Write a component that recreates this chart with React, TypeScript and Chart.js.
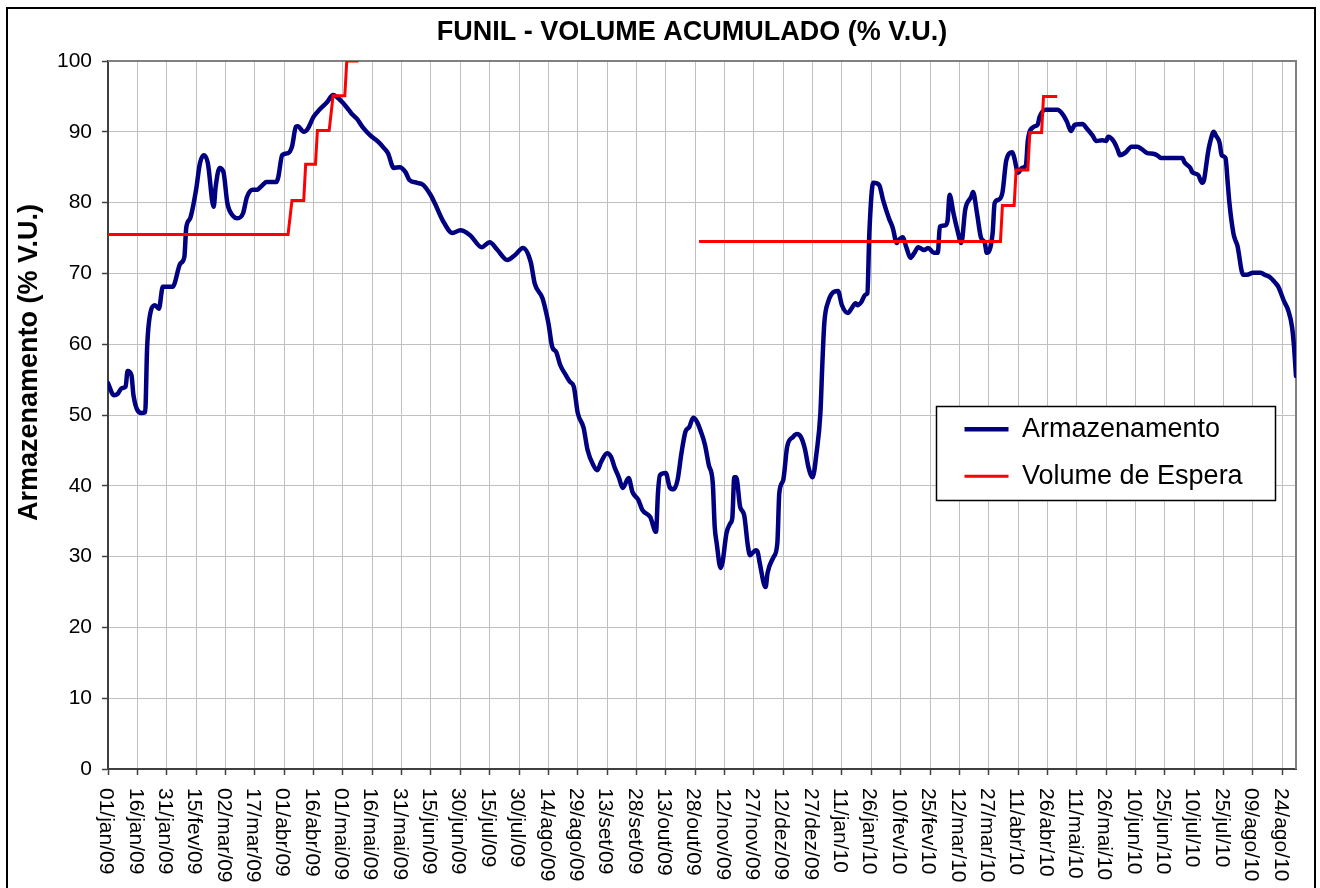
import { useEffect, useRef } from 'react';
import { Chart, registerables } from 'chart.js';

Chart.register(...registerables);

const FONT = "'Liberation Sans', Arial, sans-serif";

const chartTitle = 'FUNIL - VOLUME ACUMULADO (% V.U.)';
const yAxisTitle = 'Armazenamento (% V.U.)';
const seriesNames = ['Armazenamento', 'Volume de Espera'];

// x tick labels, one every 15 days starting 01/jan/09 (day 0)
const xTickLabels = [
  '01/jan/09', '16/jan/09', '31/jan/09', '15/fev/09', '02/mar/09', '17/mar/09', '01/abr/09',
  '16/abr/09', '01/mai/09', '16/mai/09', '31/mai/09', '15/jun/09', '30/jun/09', '15/jul/09',
  '30/jul/09', '14/ago/09', '29/ago/09', '13/set/09', '28/set/09', '13/out/09', '28/out/09',
  '12/nov/09', '27/nov/09', '12/dez/09', '27/dez/09', '11/jan/10', '26/jan/10', '10/fev/10',
  '25/fev/10', '12/mar/10', '27/mar/10', '11/abr/10', '26/abr/10', '11/mai/10', '26/mai/10',
  '10/jun/10', '25/jun/10', '10/jul/10', '25/jul/10', '09/ago/10', '24/ago/10',
];
const xTickStep = 15;
const xMaxDay = 607;

// Armazenamento: days since 01/jan/09 and % V.U.
const armDays = [
  0, 3, 5, 7, 9, 10, 12, 13, 17, 19, 20, 22, 24, 26, 28, 33, 37, 39, 40, 42, 45, 47, 49, 51,
  54, 55, 57, 59, 61, 64, 66, 69, 71, 74, 76, 79, 81, 84, 86, 87, 89, 92, 94, 96, 97, 100,
  102, 105, 108, 112, 115, 117, 120, 123, 125, 127, 130, 134, 138, 141, 143, 146, 149, 152,
  154, 158, 161, 165, 167, 171, 176, 180, 185, 191, 195, 199, 204, 208, 212, 216, 218, 222,
  223, 225, 227, 229, 231, 234, 236, 238, 240, 243, 245, 248, 250, 252, 255, 257, 259, 261,
  263, 266, 268, 271, 273, 277, 280, 281, 282, 285, 287, 289, 291, 293, 295, 297, 299, 301,
  303, 305, 307, 309, 310, 311, 313, 314, 316, 318, 319, 320, 321, 323, 325, 327, 328, 331,
  332, 333, 336, 337, 340, 342, 343, 345, 347, 350, 352, 354, 356, 358, 360, 362, 364, 365,
  366, 368, 371, 373, 375, 378, 380, 382, 383, 385, 387, 388, 389, 391, 394, 396, 399, 401,
  403, 404, 406, 408, 410, 412, 414, 417, 419, 422, 424, 425, 428, 429, 430, 432, 434, 436,
  438, 441, 442, 444, 446, 448, 449, 452, 453, 455, 457, 459, 462, 463, 465, 467, 469, 470,
  473, 475, 476, 479, 485, 488, 490, 492, 494, 498, 500, 503, 505, 508, 510, 511, 514, 516,
  517, 520, 523, 526, 528, 531, 534, 536, 538, 549, 550, 553, 554, 557, 559, 560, 562, 563,
  565, 566, 568, 569, 571, 572, 573, 575, 576, 577, 580, 582, 585, 589, 591, 594, 596, 598,
  600, 601, 603, 605, 606, 607,
];
const armValues = [
  54.5, 52.8, 53.0, 53.8, 54.0, 56.2, 55.6, 52.8, 50.3, 50.4, 59.6, 64.8, 65.5, 65.0, 68.1,
  68.1, 71.4, 72.3, 76.5, 77.8, 81.8, 85.6, 86.7, 85.6, 79.4, 82.2, 84.9, 84.3, 79.9, 78.1,
  77.8, 78.5, 80.8, 81.8, 81.8, 82.5, 82.9, 82.9, 82.9, 83.6, 86.7, 87.0, 87.9, 90.7, 90.8,
  90.0, 90.4, 92.1, 93.1, 94.2, 95.2, 94.9, 94.1, 93.1, 92.4, 91.9, 90.7, 89.5, 88.6, 87.7,
  87.0, 84.9, 85.0, 84.3, 83.2, 82.8, 82.5, 81.0, 79.9, 77.5, 75.7, 76.1, 75.4, 73.7, 74.4,
  73.3, 71.9, 72.6, 73.6, 71.6, 68.6, 66.5, 65.5, 63.0, 59.6, 58.9, 57.1, 55.6, 54.7, 54.0,
  50.3, 48.2, 45.1, 42.9, 42.2, 43.4, 44.6, 44.1, 42.5, 41.2, 39.7, 41.1, 39.1, 38.0, 36.6,
  35.6, 33.5, 39.0, 41.5, 41.8, 39.8, 39.5, 40.8, 44.6, 47.6, 48.3, 49.6, 49.0, 47.6, 45.8,
  42.9, 40.4, 34.2, 31.9, 28.4, 29.2, 33.3, 34.7, 35.5, 41.2, 41.2, 37.0, 35.9, 31.4, 30.2,
  30.9, 30.6, 29.1, 25.7, 27.7, 29.9, 31.9, 39.0, 40.8, 45.5, 46.9, 47.3, 46.9, 45.3, 42.5,
  41.2, 44.6, 50.3, 57.3, 63.0, 66.0, 67.4, 67.5, 65.5, 64.4, 65.1, 65.8, 65.5, 66.0, 67.0,
  67.2, 75.7, 82.8, 82.5, 80.4, 77.8, 76.4, 74.3, 74.7, 75.1, 73.6, 72.2, 72.9, 73.7, 73.3,
  73.6, 72.9, 72.9, 76.6, 76.8, 77.5, 81.1, 78.5, 76.1, 74.3, 79.0, 80.8, 81.5, 78.5, 75.1,
  74.3, 72.9, 75.7, 79.9, 80.4, 81.4, 86.0, 87.1, 86.4, 84.2, 84.9, 85.3, 88.8, 90.7, 91.0,
  92.1, 93.1, 93.1, 92.4, 91.4, 90.1, 91.0, 91.1, 90.5, 89.5, 88.7, 88.8, 88.7, 89.3, 88.6,
  87.4, 86.7, 87.1, 87.9, 87.9, 87.6, 87.0, 86.9, 86.7, 86.3, 86.3, 85.7, 84.9, 84.3, 83.9,
  82.8, 83.2, 87.0, 88.4, 90.0, 89.5, 88.4, 86.7, 86.3, 83.2, 79.9, 75.7, 74.7, 74.0, 69.8,
  69.8, 70.1, 70.1, 69.8, 69.4, 68.8, 68.1, 66.7, 66.0, 64.8, 62.4, 59.6, 55.5,
];

// Volume de Espera (two periods)
const esperaDays1 = [0, 92, 94, 100, 101, 106, 107, 113, 115, 121, 122, 128];
const esperaValues1 = [75.5, 75.5, 80.3, 80.3, 85.4, 85.4, 90.2, 90.2, 95.1, 95.1, 100, 100];
const esperaDays2 = [302, 456, 457, 463, 464, 470, 471, 477, 478, 485];
const esperaValues2 = [74.5, 74.5, 79.6, 79.6, 84.6, 84.6, 89.9, 89.9, 95.0, 95.0];

const yMin = 0;
const yMax = 100;
const yStep = 10;

const customPlugin = {
  id: 'customDecor',
  beforeDraw(chart: any) {
    const ctx = chart.ctx;
    ctx.save();
    ctx.fillStyle = '#ffffff';
    ctx.fillRect(0, 0, chart.width, chart.height);
    ctx.restore();
  },
  afterLayout(chart: any) {
    const lg = chart.legend;
    if (!lg) return;
    lg.left = 944.5;
    lg.top = 395.8;
    lg.right = 1276;
    lg.bottom = 520;
    lg.width = lg.right - lg.left;
    lg.height = lg.bottom - lg.top;
  },
  beforeDatasetsDraw(chart: any) {
    const { ctx, chartArea } = chart;
    ctx.save();
    ctx.strokeStyle = '#808080';
    ctx.lineWidth = 2;
    ctx.beginPath();
    ctx.moveTo(chartArea.left, chartArea.top);
    ctx.lineTo(chartArea.right, chartArea.top);
    ctx.lineTo(chartArea.right, chartArea.bottom);
    ctx.stroke();
    ctx.restore();
  },
  afterDatasetsDraw(chart: any) {
    const ctx = chart.ctx;
    ctx.save();
    ctx.fillStyle = '#ffffff';
    ctx.fillRect(936, 406, 340, 95);
    ctx.strokeStyle = '#000000';
    ctx.lineWidth = 1.5;
    ctx.strokeRect(936.5, 406.5, 339, 94);
    ctx.restore();
    if (chart.legend) chart.legend.draw();
  },
  afterDraw(chart: any) {
    const ctx = chart.ctx;
    const xs = chart.scales.x;
    ctx.save();
    // outer frame
    ctx.strokeStyle = '#000000';
    ctx.lineWidth = 2;
    ctx.strokeRect(7, 8, 1308, 900);
    // title
    ctx.fillStyle = '#000000';
    ctx.font = `bold 27px ${FONT}`;
    ctx.textAlign = 'center';
    ctx.textBaseline = 'middle';
    ctx.fillText(chartTitle, 692, 33);
    // y axis title
    ctx.save();
    ctx.translate(30, 362.5);
    ctx.rotate(-Math.PI / 2);
    ctx.fillText(yAxisTitle, 0, 0);
    ctx.restore();
    // x tick labels, rotated clockwise
    ctx.font = `21px ${FONT}`;
    ctx.textAlign = 'left';
    ctx.textBaseline = 'middle';
    xs.ticks.forEach((t: any) => {
      const label = xTickLabels[Math.round(t.value / xTickStep)];
      if (!label) return;
      const px = xs.getPixelForValue(t.value);
      ctx.save();
      ctx.translate(px - 2, 788);
      ctx.rotate(Math.PI / 2);
      ctx.fillText(label, 0, 0);
      ctx.restore();
    });
    ctx.restore();
  },
};

export default function App() {
  const ref = useRef<HTMLCanvasElement | null>(null);

  useEffect(() => {
    if (!ref.current) return;
    const armData = armDays.map((d, i) => ({ x: d, y: armValues[i] }));
    const esperaData = [
      ...esperaDays1.map((d, i) => ({ x: d, y: esperaValues1[i] as number | null })),
      { x: 200, y: null },
      ...esperaDays2.map((d, i) => ({ x: d, y: esperaValues2[i] as number | null })),
    ];
    const chart = new Chart(ref.current, {
      type: 'line',
      data: {
        datasets: [
          {
            label: seriesNames[0],
            data: armData,
            borderColor: '#000080',
            backgroundColor: '#000080',
            pointBorderColor: '#000080',
            borderWidth: 4.5,
            pointBorderWidth: 4.5,
            pointRadius: 0,
            pointHoverRadius: 0,
            cubicInterpolationMode: 'monotone',
            borderCapStyle: 'round',
            borderJoinStyle: 'round',
            order: 1,
          },
          {
            label: seriesNames[1],
            data: esperaData,
            borderColor: '#ff0000',
            backgroundColor: '#ff0000',
            pointBorderColor: '#ff0000',
            borderWidth: 3,
            pointBorderWidth: 3,
            pointRadius: 0,
            pointHoverRadius: 0,
            tension: 0,
            spanGaps: false,
            order: 0,
          },
        ],
      } as any,
      options: {
        responsive: false,
        animation: false,
        events: [],
        layout: { padding: { left: 8, top: 61, right: 24, bottom: 0 } },
        plugins: {
          title: { display: false },
          tooltip: { enabled: false },
          legend: {
            display: true,
            position: 'chartArea',
            align: 'start',
            labels: {
              usePointStyle: true,
              pointStyle: 'line',
              pointStyleWidth: 44,
              padding: 20,
              color: '#000000',
              font: { family: FONT, size: 27 },
              sort: (a: any, b: any) => a.datasetIndex - b.datasetIndex,
            },
          },
        },
        scales: {
          x: {
            type: 'linear',
            min: 0,
            max: xMaxDay,
            afterFit: (s: any) => { s.height = 119; },
            ticks: { display: false, stepSize: xTickStep, includeBounds: false },
            grid: {
              color: '#c0c0c0',
              lineWidth: 1,
              drawTicks: true,
              tickLength: 6,
              tickColor: '#404040',
              tickWidth: 1.5,
            },
            border: { display: true, color: '#404040', width: 2 },
          },
          y: {
            type: 'linear',
            min: yMin,
            max: yMax,
            afterFit: (s: any) => { s.width = 100; },
            ticks: {
              stepSize: yStep,
              padding: 10,
              color: '#000000',
              font: { family: FONT, size: 21 },
            },
            grid: {
              color: '#c0c0c0',
              lineWidth: 1,
              drawTicks: true,
              tickLength: 6,
              tickColor: '#404040',
              tickWidth: 1.5,
            },
            border: { display: true, color: '#404040', width: 2 },
          },
        },
      } as any,
      plugins: [customPlugin],
    });
    return () => chart.destroy();
  }, []);

  return (
    <div style={{ position: 'absolute', left: 0, top: 0, width: 1320, height: 888, background: '#ffffff' }}>
      <canvas ref={ref} width={1320} height={888} style={{ display: 'block' }} />
    </div>
  );
}
